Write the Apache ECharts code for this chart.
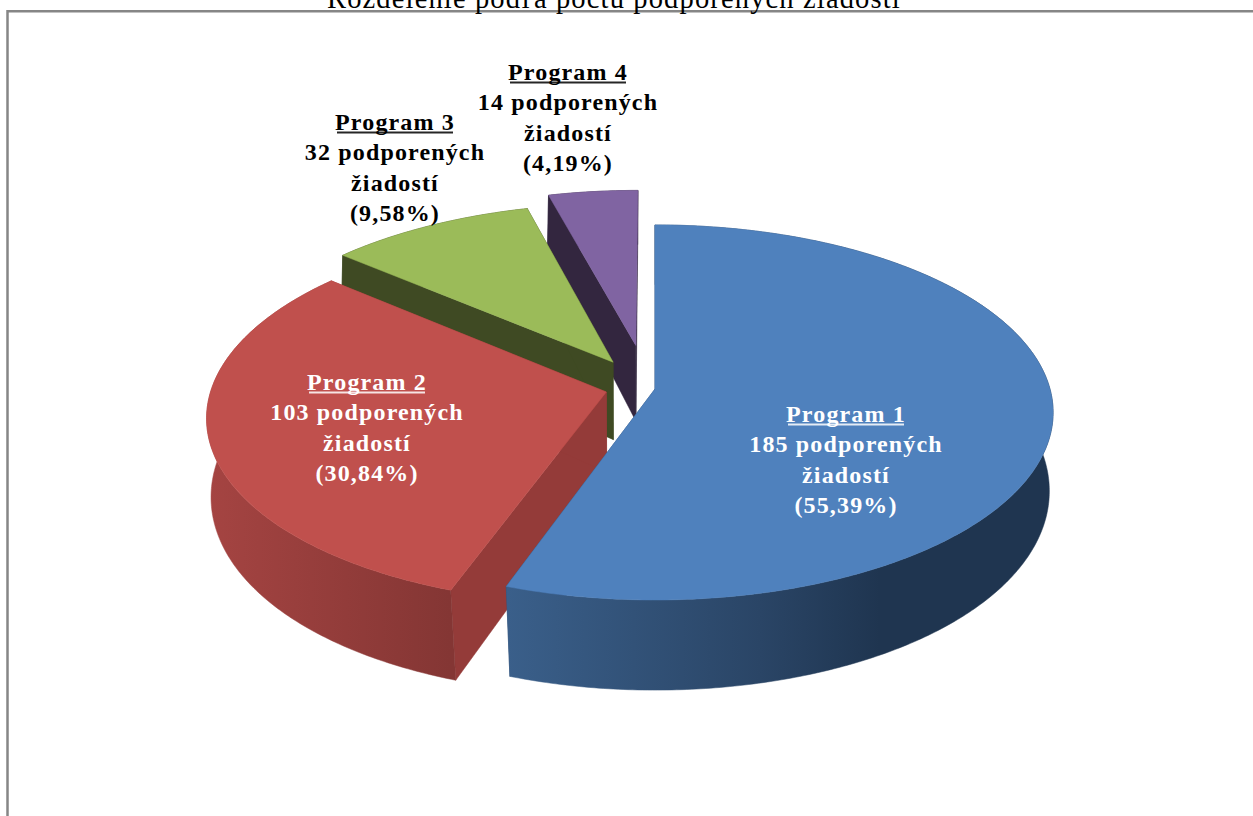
<!DOCTYPE html>
<html><head><meta charset="utf-8">
<style>html,body{margin:0;padding:0;background:#fff}#c{width:1253px;height:816px}#c svg text{letter-spacing:1.15px}</style>
<script src="https://cdn.jsdelivr.net/npm/echarts@6/dist/echarts.min.js"></script>
</head><body><div id="c"></div>
<script>
const chartTitle = 'Rozdelenie podľa počtu podporených žiadostí';
const categories = ['Program 1', 'Program 2', 'Program 3', 'Program 4'];
const values = [185, 103, 32, 14];
const unitText = 'podporených';
const unitText2 = 'žiadostí';
const explode = [[0, 0], [-0.123, 0.016], [-0.108, -0.148], [-0.05, -0.243]];
const topColors = ['#4F81BD', '#C0504D', '#9BBB59', '#8064A2'];
const faceColors = ['#2c4a70', '#943B39', '#3F4A23', '#33263F'];
const rimStops = [
  [[507, '#3A5F8A'], [760, '#2A4566'], [880, '#1F3550'], [1053, '#1F3550']],
  [[207, '#A54442'], [450, '#843634']],
  [[340, '#3F4A23'], [530, '#3F4A23']],
  [[540, '#33263F'], [640, '#33263F']]
];
const labelColors = ['#fff', '#fff', '#000', '#000'];
const labelAnchors = [[846, 414], [367, 382], [395, 122], [568, 72]];
const stackOrder = [40, 30, 20, 10];

const total = values.reduce((a, b) => a + b, 0);
const cx = 655;
function topPlane(u, v) {
  const s = 1 / (1 - 0.125 * v);
  return [cx + 395 * u * s, 389 + 184.6 * v * s];
}
function basePlane(u, v) {
  return [cx + 392 * u / (1 - 0.109 * v), 469 + 201 * v / (1 - 0.091 * v)];
}
function startAngle(i) {
  let sum = 0;
  for (let k = 0; k < i; k++) sum += values[k];
  return sum / total * 2 * Math.PI;
}
function arc(a0, a1, off, plane) {
  const n = Math.max(2, Math.ceil((a1 - a0) * 90));
  const pts = [];
  for (let j = 0; j <= n; j++) {
    const a = a0 + (a1 - a0) * j / n;
    pts.push(plane(Math.sin(a) + off[0], -Math.cos(a) + off[1]));
  }
  return pts;
}
function renderItem(params, api) {
  const i = params.dataIndex;
  const val = api.value(0);
  const a0 = startAngle(i);
  const a1 = a0 + val / total * 2 * Math.PI;
  const off = explode[i];
  const topArc = arc(a0, a1, off, topPlane);
  const baseArc = arc(a0, a1, off, basePlane);
  const apexT = topPlane(off[0], off[1]);
  const apexB = basePlane(off[0], off[1]);
  const z = stackOrder[i];
  const stops = rimStops[i];
  const x0 = stops[0][0], x1 = stops[stops.length - 1][0];
  const rimFill = new echarts.graphic.LinearGradient(x0, 0, x1, 0,
    stops.map(s => ({offset: (s[0] - x0) / (x1 - x0), color: s[1]})), true);
  const poly = (points, fill, z2) => ({type: 'polygon', z2, shape: {points},
    style: {fill, stroke: fill, lineWidth: 0.5}});
  const [lx, ly] = labelAnchors[i];
  const pct = (val / total * 100).toFixed(2).replace('.', ',');
  const lines = [categories[i], val + ' ' + unitText, unitText2, '(' + pct + '%)'];
  const steps = [0, 30, 61, 91];
  const children = [
    poly([apexT, topArc[0], baseArc[0], apexB], faceColors[i], z),
    poly([apexT, topArc[topArc.length - 1], baseArc[baseArc.length - 1], apexB], faceColors[i], z),
    poly(topArc.concat(baseArc.slice().reverse()), rimFill, z + 1),
    poly([apexT].concat(topArc), topColors[i], z + 2),
    {type: 'line', z2: 100, shape: {x1: lx - 58, y1: ly + 10.5, x2: lx + 58, y2: ly + 10.5},
      style: {stroke: labelColors[i], lineWidth: 2, opacity: 0.85}}
  ];
  lines.forEach((t, k) => children.push({type: 'text', z2: 101,
    style: {text: t, x: lx, y: ly + steps[k], align: 'center', verticalAlign: 'middle',
      fill: labelColors[i], fontFamily: 'Liberation Serif', fontWeight: 'bold', fontSize: 24}}));
  return {type: 'group', children};
}
const chart = echarts.init(document.getElementById('c'), null, {renderer: 'svg'});
chart.setOption({
  animation: false,
  backgroundColor: '#fff',
  title: {text: chartTitle, left: 322, top: -21,
    textStyle: {fontFamily: 'Liberation Serif', fontWeight: 'normal', fontSize: 28.5, color: '#000'}},
  graphic: [{type: 'polyline', silent: true, z: -1,
    shape: {points: [[7.5, 816], [7.5, 11.3], [1253, 11.3]]},
    style: {stroke: '#868686', lineWidth: 2.5, fill: 'none'}}],
  series: [{type: 'custom', coordinateSystem: 'none', silent: true,
    renderItem, data: values.map(v => [v])}]
});
</script></body></html>
